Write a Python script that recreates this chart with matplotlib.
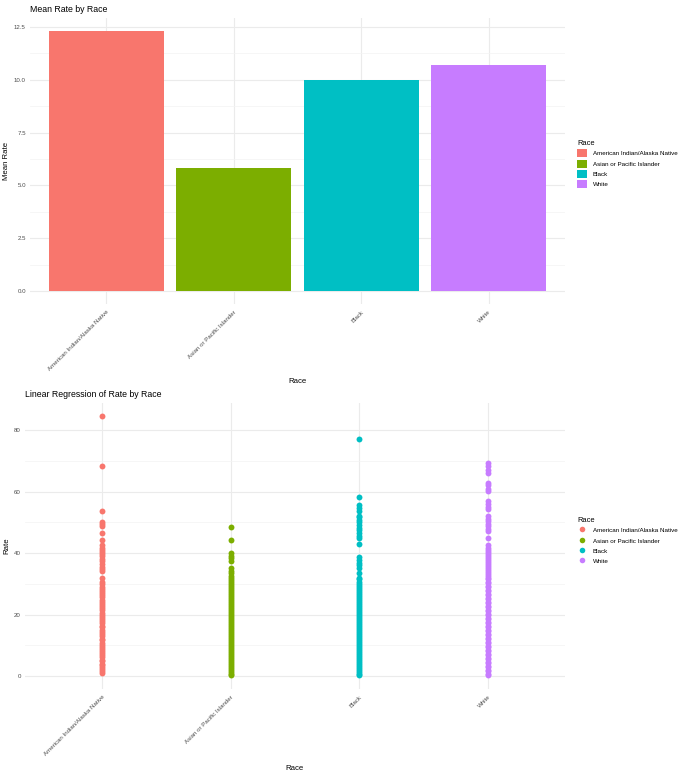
import matplotlib
matplotlib.use("Agg")
import matplotlib.pyplot as plt
from matplotlib.patches import Patch
from matplotlib.lines import Line2D
from matplotlib.ticker import MultipleLocator, FormatStrFormatter

plt.rcParams["font.family"] = ["Liberation Sans", "DejaVu Sans"]

races = ["American Indian/Alaska Native", "Asian or Pacific Islander", "Black", "White"]
colors = ["#F8766D", "#7CAE00", "#00BFC4", "#C77CFF"]
mean_rate = [12.31, 5.81, 9.99, 10.68]

# individual rates (dense runs are typed at roughly point-size steps)
rate_aian = [1.1, 1.6, 2.2, 2.9, 3.5, 4.0, 4.8, 5.3, 6.1, 6.7, 7.4, 8.0, 8.7, 9.5,
             10.1, 10.9, 11.6, 12.2, 13.0, 13.7, 14.3, 15.1, 15.8, 16.4, 17.2, 17.9,
             18.5, 19.3, 20.0, 20.6, 21.4, 22.1, 22.7, 23.5, 24.2, 24.8, 25.6, 26.3,
             26.9, 27.7, 28.4, 29.0, 29.8, 30.6, 32.0, 34.1, 34.8, 35.6, 36.4, 37.3,
             38.1, 38.9, 39.6, 40.3, 41.1, 41.8, 42.6, 44.4, 46.5, 48.8, 49.4, 50.0,
             53.6, 68.3, 84.6]
rate_api = [0.2, 0.7, 1.3, 1.9, 2.6, 3.2, 3.9, 4.5, 5.2, 5.8, 6.5, 7.1, 7.8, 8.4,
            9.1, 9.7, 10.4, 11.0, 11.7, 12.3, 13.0, 13.6, 14.3, 14.9, 15.6, 16.2,
            16.9, 17.5, 18.2, 18.8, 19.5, 20.1, 20.8, 21.4, 22.1, 22.7, 23.4, 24.0,
            24.7, 25.3, 26.0, 26.6, 27.3, 27.9, 28.6, 29.2, 29.9, 30.6, 31.3, 31.9,
            32.6, 33.4, 34.2, 35.1, 37.4, 38.3, 39.1, 39.9, 44.3, 48.4]
rate_black = [0.2, 0.8, 1.4, 2.1, 2.7, 3.4, 4.0, 4.7, 5.3, 6.0, 6.6, 7.3, 7.9, 8.6,
              9.2, 9.9, 10.5, 11.2, 11.8, 12.5, 13.1, 13.8, 14.4, 15.1, 15.7, 16.4,
              17.0, 17.7, 18.3, 19.0, 19.6, 20.3, 20.9, 21.6, 22.2, 22.9, 23.5, 24.2,
              24.8, 25.5, 26.1, 26.8, 27.4, 28.1, 28.7, 29.4, 30.0, 30.7, 31.4, 32.0,
              33.6, 35.2, 36.0, 36.9, 37.8, 38.8, 43.0, 44.9, 45.7, 46.6, 47.4, 48.3,
              49.1, 50.0, 50.8, 51.6, 52.0, 53.8, 54.8, 55.8, 58.3, 77.2]
rate_white = [0.2, 0.8, 1.5, 2.1, 2.8, 3.4, 4.1, 4.7, 5.4, 6.0, 6.7, 7.3, 8.0, 8.6,
              9.3, 9.9, 10.6, 11.2, 11.9, 12.5, 13.2, 13.8, 14.5, 15.1, 15.8, 16.4,
              17.1, 17.7, 18.4, 19.0, 19.7, 20.3, 21.0, 21.6, 22.3, 22.9, 23.6, 24.2,
              24.9, 25.5, 26.2, 26.8, 27.5, 28.1, 28.8, 29.4, 30.1, 30.7, 31.4, 32.0,
              32.7, 33.3, 34.0, 34.6, 35.3, 35.9, 36.6, 37.2, 37.9, 38.5, 39.2, 39.8,
              40.5, 41.1, 41.8, 42.7, 44.9, 47.1, 47.9, 48.7, 49.5, 50.3, 51.1, 52.0,
              54.2, 55.1, 56.0, 56.9, 60.1, 61.0, 62.0, 62.9, 66.1, 67.1, 68.2, 69.2]
point_rates = [rate_aian, rate_api, rate_black, rate_white]

fig = plt.figure(figsize=(6.83, 7.73), dpi=100)
grid_major = dict(color="#EBEBEB", linewidth=0.8)
grid_minor = dict(color="#F3F3F3", linewidth=0.5)
tick_col = "#4D4D4D"


def style(ax):
    for s in ax.spines.values():
        s.set_visible(False)
    ax.set_axisbelow(True)
    ax.grid(True, which="major", **grid_major)
    ax.grid(True, which="minor", axis="y", **grid_minor)
    ax.tick_params(which="both", length=0, labelsize=4.4, colors=tick_col, pad=3)
    ax.tick_params(axis="x", pad=4)
    ax.set_xticks(range(len(races)))
    ax.set_xticklabels(races, rotation=45, ha="right", rotation_mode="anchor")
    ax.set_xlim(-0.6, len(races) - 0.4)


# top: bar chart
ax1 = fig.add_axes([30 / 683, 1 - 304 / 773, 535 / 683, 286 / 773])
bars = ax1.bar(range(len(races)), mean_rate, width=0.9, color=colors, zorder=3)
style(ax1)
top = max(mean_rate)
ax1.set_ylim(-0.05 * top, top * 1.05)
ax1.yaxis.set_major_locator(MultipleLocator(2.5))
ax1.yaxis.set_minor_locator(MultipleLocator(1.25))
ax1.yaxis.set_major_formatter(FormatStrFormatter("%.1f"))
ax1.set_title("Mean Rate by Race", loc="left", fontsize=6.3, pad=4)
ax1.set_ylabel("Mean Rate", fontsize=5.6)
ax1.set_xlabel("Race", fontsize=5.6)
ax1.yaxis.set_label_coords(-0.038, 0.5)
ax1.xaxis.set_label_coords(0.5, -0.259)
h1 = [Patch(facecolor=c, edgecolor="none") for c in colors]
ax1.legend(h1, races, loc="upper left", bbox_to_anchor=(574 / 683, 1 - 137 / 773),
           bbox_transform=fig.transFigure, frameon=False, title="Race",
           fontsize=4.5, title_fontsize=5.4, handlelength=1.6, handleheight=1.6,
           labelspacing=0.36, handletextpad=0.9, alignment="left", borderpad=0)

# bottom: points by race
ax2 = fig.add_axes([25 / 683, 1 - 689 / 773, 540 / 683, 286 / 773])
for i, vals in enumerate(point_rates):
    ax2.scatter([i] * len(vals), vals, s=18, color=colors[i], linewidths=0, zorder=3)
style(ax2)
ymax = max(max(v) for v in point_rates)
ax2.set_ylim(-0.05 * ymax, ymax * 1.05)
ax2.yaxis.set_major_locator(MultipleLocator(20))
ax2.yaxis.set_minor_locator(MultipleLocator(10))
ax2.set_title("Linear Regression of Rate by Race", loc="left", fontsize=6.3, pad=4)
ax2.set_ylabel("Rate", fontsize=5.6)
ax2.set_xlabel("Race", fontsize=5.6)
ax2.yaxis.set_label_coords(-0.028, 0.5)
ax2.xaxis.set_label_coords(0.5, -0.266)
h2 = [Line2D([], [], marker="o", linestyle="none", markersize=4,
             markerfacecolor=c, markeredgewidth=0) for c in colors]
ax2.legend(h2, races, loc="upper left", bbox_to_anchor=(574 / 683, 1 - 514 / 773),
           bbox_transform=fig.transFigure, frameon=False, title="Race",
           fontsize=4.5, title_fontsize=5.4, handlelength=1.6, handleheight=1.6,
           labelspacing=0.36, handletextpad=0.9, alignment="left", borderpad=0)

fig.savefig("out.png", dpi=100)
